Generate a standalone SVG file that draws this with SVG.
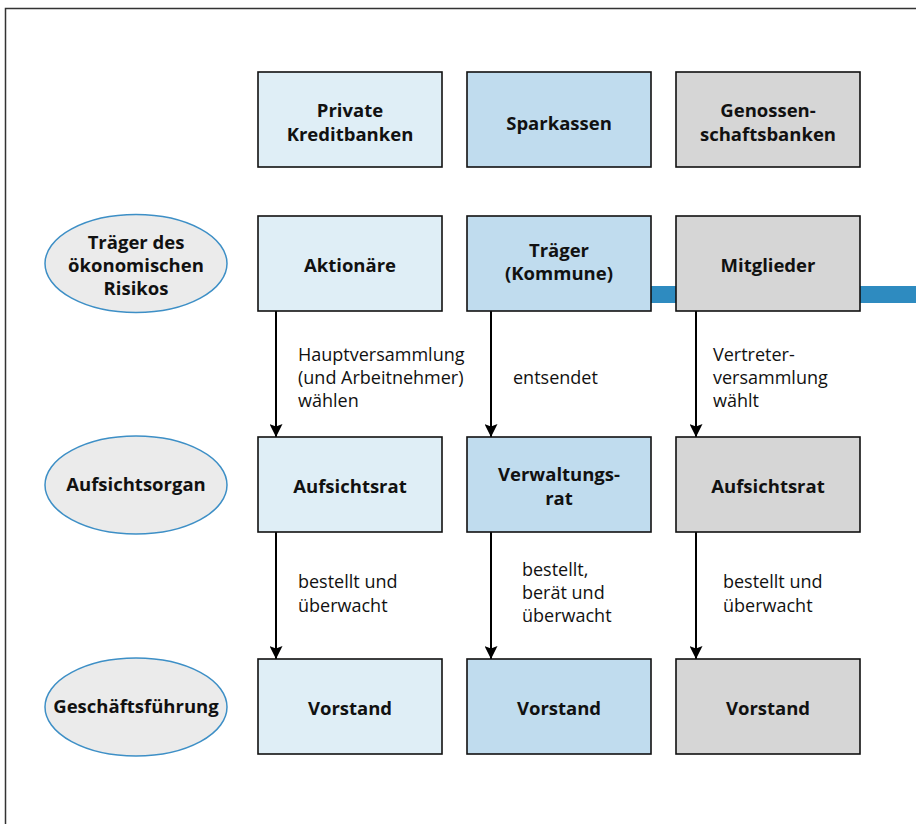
<svg xmlns="http://www.w3.org/2000/svg" width="916" height="824" viewBox="0 0 916 824">
<style>
.box{stroke:#111;stroke-width:1.6}
.c1{fill:#dfeef6}.c2{fill:#c0dcee}.c3{fill:#d6d6d6}
.ell{fill:#ebebeb;stroke:#3d8fc6;stroke-width:1.5}
.t{font-family:"Open Sans",sans-serif;font-weight:bold;font-size:18.5px;fill:#111;text-anchor:middle}
.l{font-family:"Open Sans",sans-serif;font-size:18px;fill:#111}
.ar{stroke:#000;stroke-width:2;fill:none;marker-end:url(#ah)}
</style>
<defs>
<marker id="ah" viewBox="0 0 10 10" refX="10" refY="5" markerWidth="7" markerHeight="6.5" orient="auto" markerUnits="strokeWidth">
<path d="M0,0 L10,5 L0,10 L2,5 z" fill="#000"/>
</marker>
</defs>
<rect width="916" height="824" fill="#fff"/>
<path d="M5.5,824 V8.5 H916" fill="none" stroke="#333" stroke-width="1.5"/>
<rect x="651" y="286" width="265" height="17" fill="#2e8bc0"/>
<g id="connectors">
<line class="ar" x1="276" y1="311" x2="276" y2="437"/>
<line class="ar" x1="491" y1="311" x2="491" y2="437"/>
<line class="ar" x1="696" y1="311" x2="696" y2="437"/>
<line class="ar" x1="276" y1="532" x2="276" y2="659"/>
<line class="ar" x1="491" y1="532" x2="491" y2="659"/>
<line class="ar" x1="696" y1="532" x2="696" y2="659"/>
<text class="l" x="298" y="361">Hauptversammlung</text>
<text class="l" x="298" y="384">(und Arbeitnehmer)</text>
<text class="l" x="298" y="407">wählen</text>
<text class="l" x="513" y="384">entsendet</text>
<text class="l" x="713" y="361">Vertreter-</text>
<text class="l" x="713" y="384">versammlung</text>
<text class="l" x="713" y="407">wählt</text>
<text class="l" x="298" y="588">bestellt und</text>
<text class="l" x="298" y="612">überwacht</text>
<text class="l" x="522" y="576">bestellt,</text>
<text class="l" x="522" y="599">berät und</text>
<text class="l" x="522" y="622">überwacht</text>
<text class="l" x="723" y="588">bestellt und</text>
<text class="l" x="723" y="612">überwacht</text>
</g>
<g id="e1"><ellipse class="ell" cx="136" cy="263.5" rx="91" ry="49"/>
<text class="t" x="136" y="249">Träger des</text><text class="t" x="136" y="272">ökonomischen</text><text class="t" x="136" y="295">Risikos</text></g>
<g id="e2"><ellipse class="ell" cx="136" cy="485" rx="91" ry="49"/><text class="t" x="136" y="491">Aufsichtsorgan</text></g>
<g id="e3"><ellipse class="ell" cx="136" cy="707" rx="91" ry="49"/><text class="t" x="136" y="713">Geschäftsführung</text></g>
<g id="b11"><rect class="box c1" x="258" y="72" width="184" height="95"/><text class="t" x="350" y="117">Private</text><text class="t" x="350" y="141">Kreditbanken</text></g>
<g id="b12"><rect class="box c2" x="467" y="72" width="184" height="95"/><text class="t" x="559" y="130">Sparkassen</text></g>
<g id="b13"><rect class="box c3" x="676" y="72" width="184" height="95"/><text class="t" x="768" y="117">Genossen-</text><text class="t" x="768" y="141">schaftsbanken</text></g>
<g id="b21"><rect class="box c1" x="258" y="216" width="184" height="95"/><text class="t" x="350" y="272">Aktionäre</text></g>
<g id="b22"><rect class="box c2" x="467" y="216" width="184" height="95"/><text class="t" x="559" y="257">Träger</text><text class="t" x="559" y="280">(Kommune)</text></g>
<g id="b23"><rect class="box c3" x="676" y="216" width="184" height="95"/><text class="t" x="768" y="272">Mitglieder</text></g>
<g id="b31"><rect class="box c1" x="258" y="437" width="184" height="95"/><text class="t" x="350" y="493">Aufsichtsrat</text></g>
<g id="b32"><rect class="box c2" x="467" y="437" width="184" height="95"/><text class="t" x="559" y="481">Verwaltungs-</text><text class="t" x="559" y="505">rat</text></g>
<g id="b33"><rect class="box c3" x="676" y="437" width="184" height="95"/><text class="t" x="768" y="493">Aufsichtsrat</text></g>
<g id="b41"><rect class="box c1" x="258" y="659" width="184" height="95"/><text class="t" x="350" y="715">Vorstand</text></g>
<g id="b42"><rect class="box c2" x="467" y="659" width="184" height="95"/><text class="t" x="559" y="715">Vorstand</text></g>
<g id="b43"><rect class="box c3" x="676" y="659" width="184" height="95"/><text class="t" x="768" y="715">Vorstand</text></g>
</svg>
